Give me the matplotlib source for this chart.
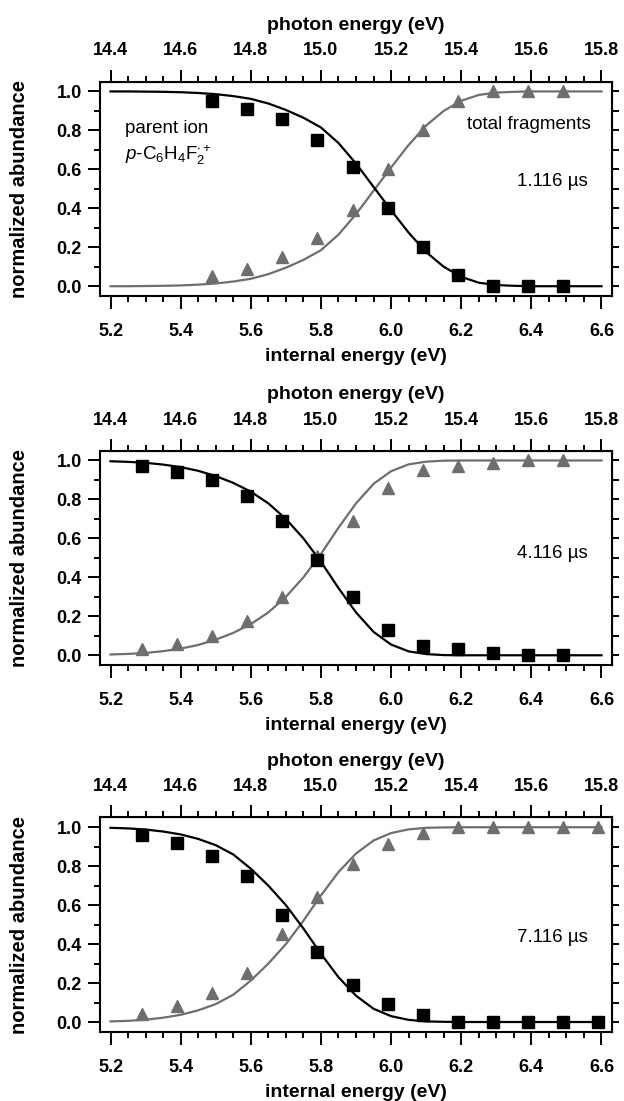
"""Breakdown curves of p-C6H4F2 at three delay times."""

import matplotlib
matplotlib.use("Agg")
import matplotlib.pyplot as plt
from matplotlib.ticker import MultipleLocator, NullFormatter

plt.rcParams["font.family"] = ["Liberation Sans", "DejaVu Sans"]
plt.rcParams["mathtext.fontset"] = "custom"
plt.rcParams["mathtext.rm"] = "Liberation Sans"
plt.rcParams["mathtext.it"] = "Liberation Sans:italic"
plt.rcParams["mathtext.bf"] = "Liberation Sans:bold"

PHOTON_OFFSET = 9.2  # photon energy = internal energy + offset

# measured points, panel 1 (1.116 us)
x_pts_1 = [5.49, 5.59, 5.69, 5.79, 5.89, 5.99, 6.09, 6.19, 6.29, 6.39, 6.49]
parent_1 = [0.95, 0.91, 0.86, 0.75, 0.61, 0.40, 0.20, 0.06, 0.0, 0.0, 0.0]
frag_1 = [0.05, 0.09, 0.15, 0.25, 0.39, 0.60, 0.80, 0.95, 1.0, 1.0, 1.0]

# panel 2 (4.116 us)
x_pts_2 = [5.29, 5.39, 5.49, 5.59, 5.69, 5.79, 5.89, 5.99, 6.09, 6.19, 6.29, 6.39, 6.49]
parent_2 = [0.97, 0.94, 0.90, 0.82, 0.69, 0.49, 0.30, 0.13, 0.05, 0.03, 0.01, 0.0, 0.0]
frag_2 = [0.03, 0.06, 0.10, 0.175, 0.30, 0.51, 0.69, 0.86, 0.95, 0.97, 0.985, 1.0, 1.0]

# panel 3 (7.116 us)
x_pts_3 = [5.29, 5.39, 5.49, 5.59, 5.69, 5.79, 5.89, 5.99, 6.09, 6.19, 6.29, 6.39, 6.49, 6.59]
parent_3 = [0.96, 0.92, 0.85, 0.75, 0.55, 0.36, 0.19, 0.09, 0.035, 0.0, 0.0, 0.0, 0.0, 0.0]
frag_3 = [0.04, 0.08, 0.15, 0.25, 0.45, 0.64, 0.81, 0.915, 0.97, 1.0, 1.0, 1.0, 1.0, 1.0]

# fitted curves, every 0.05 eV
x_fit = [5.20, 5.25, 5.30, 5.35, 5.40, 5.45, 5.50, 5.55, 5.60, 5.65,
         5.70, 5.75, 5.80, 5.85, 5.90, 5.95, 6.00, 6.05, 6.10, 6.15,
         6.20, 6.25, 6.30, 6.35, 6.40, 6.45, 6.50, 6.55, 6.60]
fit_parent_1 = [1.0, 1.0, 0.999, 0.998, 0.996, 0.992, 0.986, 0.976, 0.962, 0.938,
                0.905, 0.865, 0.815, 0.735, 0.63, 0.51, 0.39, 0.275, 0.175, 0.10,
                0.048, 0.018, 0.006, 0.002, 0.0, 0.0, 0.0, 0.0, 0.0]
fit_parent_2 = [0.996, 0.993, 0.988, 0.979, 0.966, 0.947, 0.92, 0.885, 0.84, 0.78,
                0.70, 0.60, 0.48, 0.345, 0.22, 0.12, 0.055, 0.02, 0.006, 0.001,
                0.0, 0.0, 0.0, 0.0, 0.0, 0.0, 0.0, 0.0, 0.0]
fit_parent_3 = [0.997, 0.994, 0.988, 0.978, 0.963, 0.94, 0.908, 0.86, 0.787, 0.70,
                0.60, 0.48, 0.35, 0.23, 0.135, 0.068, 0.03, 0.011, 0.003, 0.001,
                0.0, 0.0, 0.0, 0.0, 0.0, 0.0, 0.0, 0.0, 0.0]

delay_labels = ["1.116 \u00b5s", "4.116 \u00b5s", "7.116 \u00b5s"]

panels = [
    (x_pts_1, parent_1, frag_1, fit_parent_1, 0.532),
    (x_pts_2, parent_2, frag_2, fit_parent_2, 0.519),
    (x_pts_3, parent_3, frag_3, fit_parent_3, 0.442),
]
bottoms = [0.7312, 0.3960, 0.0629]

GRAY = "#6e6e6e"
TICK_FS = 13
LABEL_FS = 14


def style_ticks(axis_obj, which_axis):
    axis_obj.tick_params(axis=which_axis, which="both", direction="out",
                         width=1.4, labelsize=TICK_FS)
    axis_obj.tick_params(axis=which_axis, which="major", length=9)
    axis_obj.tick_params(axis=which_axis, which="minor", length=4.5)


fig = plt.figure(figsize=(6.24, 11.01), dpi=100)

for i, ((xp, par, frg, fit, label_y), bottom) in enumerate(zip(panels, bottoms)):
    ax = fig.add_axes([0.1603, bottom, 0.8205, 0.1946])
    fit_frag = [1 - v for v in fit]
    ax.plot(x_fit, fit_frag, color=GRAY, lw=1.6)
    ax.plot(x_fit, fit, color="black", lw=1.6)
    ax.plot(xp, frg, "^", color=GRAY, ms=9, mec=GRAY)
    ax.plot(xp, par, "s", color="black", ms=8)

    ax.set_xlim(5.17, 6.63)
    ax.set_ylim(-0.05, 1.05)
    ax.xaxis.set_major_locator(MultipleLocator(0.2))
    ax.xaxis.set_minor_locator(MultipleLocator(0.05))
    ax.yaxis.set_major_locator(MultipleLocator(0.2))
    ax.yaxis.set_minor_locator(MultipleLocator(0.1))
    ax.xaxis.set_major_formatter(lambda v, p: f"{v:.1f}")
    ax.yaxis.set_major_formatter(lambda v, p: f"{v:.1f}")
    style_ticks(ax, "x")
    style_ticks(ax, "y")
    ax.tick_params(axis="x", which="both", pad=10.5)
    ax.tick_params(axis="y", which="both", pad=4)
    for lab in ax.get_xticklabels() + ax.get_yticklabels():
        lab.set_fontweight("bold")
    for sp in ax.spines.values():
        sp.set_linewidth(1.5)

    ax.set_xlabel("internal energy (eV)", fontsize=LABEL_FS, fontweight="bold",
                  labelpad=6)
    ax.set_ylabel("normalized abundance", fontsize=14.5, fontweight="bold")
    ax.yaxis.set_label_coords(-0.139, 0.5)

    # top axis in photon energy
    top = ax.secondary_xaxis(
        "top",
        functions=(lambda x: x + PHOTON_OFFSET, lambda x: x - PHOTON_OFFSET),
    )
    top.xaxis.set_major_locator(MultipleLocator(0.2))
    top.xaxis.set_minor_locator(MultipleLocator(0.05))
    top.xaxis.set_major_formatter(lambda v, p: f"{v:.1f}")
    style_ticks(top, "x")
    top.tick_params(axis="x", which="both", pad=7)
    for lab in top.get_xticklabels():
        lab.set_fontweight("bold")
    top.set_xlabel("photon energy (eV)", fontsize=LABEL_FS, fontweight="bold",
                   labelpad=9)

    # short ticks on the right side, no labels
    right = ax.secondary_yaxis("right")
    right.yaxis.set_major_locator(MultipleLocator(0.1))
    right.yaxis.set_major_formatter(NullFormatter())
    right.tick_params(axis="y", which="major", direction="out", length=5, width=1.4)

    ax.text(0.953, label_y, delay_labels[i], transform=ax.transAxes, ha="right",
            va="center", fontsize=13.5)

    if i == 0:
        ax.text(0.049, 0.783, "parent ion", transform=ax.transAxes,
                ha="left", va="center", fontsize=13.5)
        ax.text(0.049, 0.655, r"$p$-C$_6$H$_4$F$_2^{\bullet +}$",
                transform=ax.transAxes, ha="left", va="center", fontsize=13.5)
        ax.text(0.959, 0.798, "total fragments", transform=ax.transAxes,
                ha="right", va="center", fontsize=13.5)

fig.savefig("out.png", dpi=100)
